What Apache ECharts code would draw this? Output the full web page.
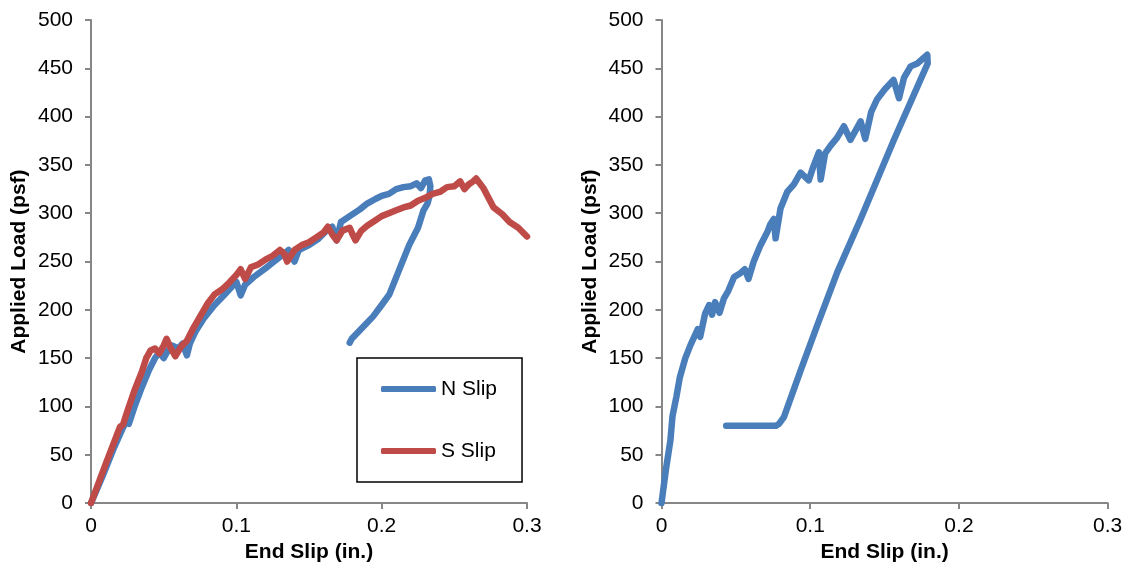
<!DOCTYPE html>
<html>
<head>
<meta charset="utf-8">
<script src="https://cdn.jsdelivr.net/npm/echarts@6/dist/echarts.min.js"></script>
<style>
html, body { margin: 0; padding: 0; background: #fff; }
#chart { width: 1132px; height: 568px; }
</style>
</head>
<body>
<div id="chart"></div>
<script>
// ---- Data ----
const seriesNames = ['N Slip', 'S Slip'];
const xTicks = [0, 0.1, 0.2, 0.3];
const yTicks = [0, 50, 100, 150, 200, 250, 300, 350, 400, 450, 500];

// Left panel, N Slip (loading then unloading)
const leftNX = [0, 0.008, 0.016, 0.022, 0.024, 0.026, 0.03, 0.035, 0.04, 0.044, 0.047, 0.05, 0.053, 0.056, 0.06, 0.063, 0.066, 0.068, 0.072, 0.078, 0.085, 0.092, 0.1, 0.103, 0.106, 0.112, 0.12, 0.126, 0.132, 0.136, 0.14, 0.143, 0.15, 0.156, 0.162, 0.166, 0.169, 0.172, 0.178, 0.185, 0.19, 0.196, 0.2, 0.205, 0.21, 0.215, 0.22, 0.224, 0.227, 0.23, 0.2325,
  0.2335, 0.233, 0.2315, 0.2288, 0.225, 0.2189, 0.213, 0.2053, 0.2, 0.194, 0.187, 0.1794, 0.178];
const leftNY = [0, 28, 58, 78, 84, 82, 100, 120, 138, 150, 156, 150, 158, 163, 160, 165, 153, 165, 178, 192, 205, 216, 229, 215, 226, 234, 243, 250, 257, 262, 250, 262, 267, 273, 282, 286, 272, 291, 297, 304, 310, 315, 318, 320, 325, 327, 328, 331, 326, 334, 335,
  328, 318, 310, 303, 285, 267, 245, 216, 205, 193, 182, 170, 166];

// Left panel, S Slip
const leftSX = [0, 0.01, 0.02, 0.022, 0.025, 0.03, 0.035, 0.038, 0.041, 0.044, 0.047, 0.05, 0.052, 0.055, 0.058, 0.062, 0.066, 0.07, 0.075, 0.08, 0.085, 0.09, 0.095, 0.1, 0.103, 0.106, 0.11, 0.115, 0.12, 0.125, 0.13, 0.133, 0.135, 0.14, 0.145, 0.15, 0.155, 0.16, 0.163, 0.166, 0.169, 0.173, 0.178, 0.18, 0.182, 0.186, 0.19, 0.195, 0.2, 0.205, 0.21, 0.215, 0.22, 0.225, 0.23, 0.235, 0.24, 0.245, 0.25, 0.254, 0.257, 0.26, 0.263, 0.265, 0.27, 0.277, 0.283, 0.288, 0.294, 0.3];
const leftSY = [0, 40, 79, 81, 95, 117, 136, 150, 158, 160, 155, 163, 170, 160, 152, 162, 168, 180, 193, 206, 216, 221, 228, 236, 242, 232, 244, 247, 252, 256, 262, 258, 250, 262, 267, 270, 275, 280, 286, 278, 272, 282, 285, 278, 272, 282, 287, 292, 297, 300, 303, 306, 308, 313, 316, 320, 322, 327, 328, 333, 325, 330, 333, 336, 326, 306, 299, 291, 285, 276];

// Right panel, N Slip (loading then unloading)
const rightNX = [0, 0.003, 0.006, 0.0074, 0.01, 0.0123, 0.016, 0.0196, 0.022, 0.0244, 0.026, 0.0293, 0.032, 0.034, 0.036, 0.039, 0.042, 0.045, 0.0488, 0.053, 0.056, 0.0585, 0.062, 0.0666, 0.071, 0.073, 0.0755, 0.0767, 0.08, 0.0845, 0.089, 0.0935, 0.099, 0.102, 0.1058, 0.107, 0.11, 0.1137, 0.118, 0.1226, 0.127, 0.1339, 0.137, 0.141, 0.145, 0.15, 0.156, 0.1597, 0.163, 0.1675, 0.172, 0.1787, 0.179, 0.1775,
  0.1563, 0.1339, 0.1182, 0.1047, 0.0935, 0.0823, 0.079, 0.077, 0.07, 0.06, 0.05, 0.0435];
const rightNY = [0, 35, 65, 90, 110, 130, 150, 164, 172, 180, 172, 196, 205, 195, 208, 197, 212, 220, 234, 238, 242, 232, 250, 267, 280, 288, 294, 274, 305, 322, 330, 342, 334, 348, 363, 335, 362, 370, 378, 390, 376, 395, 377, 405, 418, 428, 438, 419, 440, 452, 455, 464, 455, 450,
  376, 294, 239, 184, 137, 89, 82, 80, 80, 80, 80, 80];

// ---- Chart ----
const zip = (xs, ys) => xs.map((x, i) => [x, ys[i]]);
const FONT = 'Arial, "Liberation Sans", sans-serif';
const AXIS_COLOR = '#868686';
const BLUE = '#4A7EBB';
const RED = '#BE4B48';
const LW = 6.5;

function xAxis(gridIndex) {
  return {
    type: 'value', gridIndex, min: xTicks[0], max: xTicks[xTicks.length - 1], interval: 0.1,
    name: 'End Slip (in.)', nameLocation: 'middle', nameGap: 33,
    nameTextStyle: { fontFamily: FONT, fontSize: 21, fontWeight: 'bold', color: '#000' },
    axisLine: { show: true, onZero: false, lineStyle: { color: AXIS_COLOR, width: 2 } },
    axisTick: { show: true, inside: false, length: 6, lineStyle: { color: AXIS_COLOR, width: 2 } },
    axisLabel: { fontFamily: FONT, fontSize: 21, color: '#000', margin: 13 },
    splitLine: { show: false }
  };
}
function yAxis(gridIndex) {
  return {
    type: 'value', gridIndex, min: yTicks[0], max: yTicks[yTicks.length - 1], interval: 50,
    name: 'Applied Load (psf)', nameLocation: 'middle', nameGap: 61, nameRotate: 90,
    nameTextStyle: { fontFamily: FONT, fontSize: 21, fontWeight: 'bold', color: '#000' },
    axisLine: { show: true, onZero: false, lineStyle: { color: AXIS_COLOR, width: 2 } },
    axisTick: { show: true, inside: false, length: 6, lineStyle: { color: AXIS_COLOR, width: 2 } },
    axisLabel: { fontFamily: FONT, fontSize: 21, color: '#000', margin: 18 },
    splitLine: { show: false }
  };
}
function lineSeries(name, xi, xs, ys, color) {
  return {
    type: 'line', name, xAxisIndex: xi, yAxisIndex: xi, data: zip(xs, ys),
    symbol: 'none', showSymbol: false, smooth: false, animation: false, color,
    lineStyle: { width: LW, cap: 'round', join: 'round', color }
  };
}

const chart = echarts.init(document.getElementById('chart'), null, { renderer: 'canvas' });
chart.setOption({
  animation: false,
  backgroundColor: '#fff',
  grid: [
    { left: 91, right: 1132 - 527, top: 20, bottom: 568 - 506 },
    { left: 661.5, right: 1132 - 1107.7, top: 20, bottom: 568 - 506 }
  ],
  xAxis: [xAxis(0), xAxis(1)],
  yAxis: [yAxis(0), yAxis(1)],
  legend: {
    data: seriesNames.map(n => ({ name: n, icon: 'roundRect' })),
    orient: 'vertical', left: 357, top: 358,
    itemWidth: 55, itemHeight: 6, itemGap: 38,
    padding: [19, 25, 19, 24],
    borderColor: '#000', borderWidth: 1.5,
    backgroundColor: '#fff',
    textStyle: { fontFamily: FONT, fontSize: 21, color: '#000', lineHeight: 24 }
  },
  series: [
    lineSeries(seriesNames[0], 0, leftNX, leftNY, BLUE),
    lineSeries(seriesNames[1], 0, leftSX, leftSY, RED),
    lineSeries(seriesNames[0], 1, rightNX, rightNY, BLUE)
  ]
});
</script>
</body>
</html>
